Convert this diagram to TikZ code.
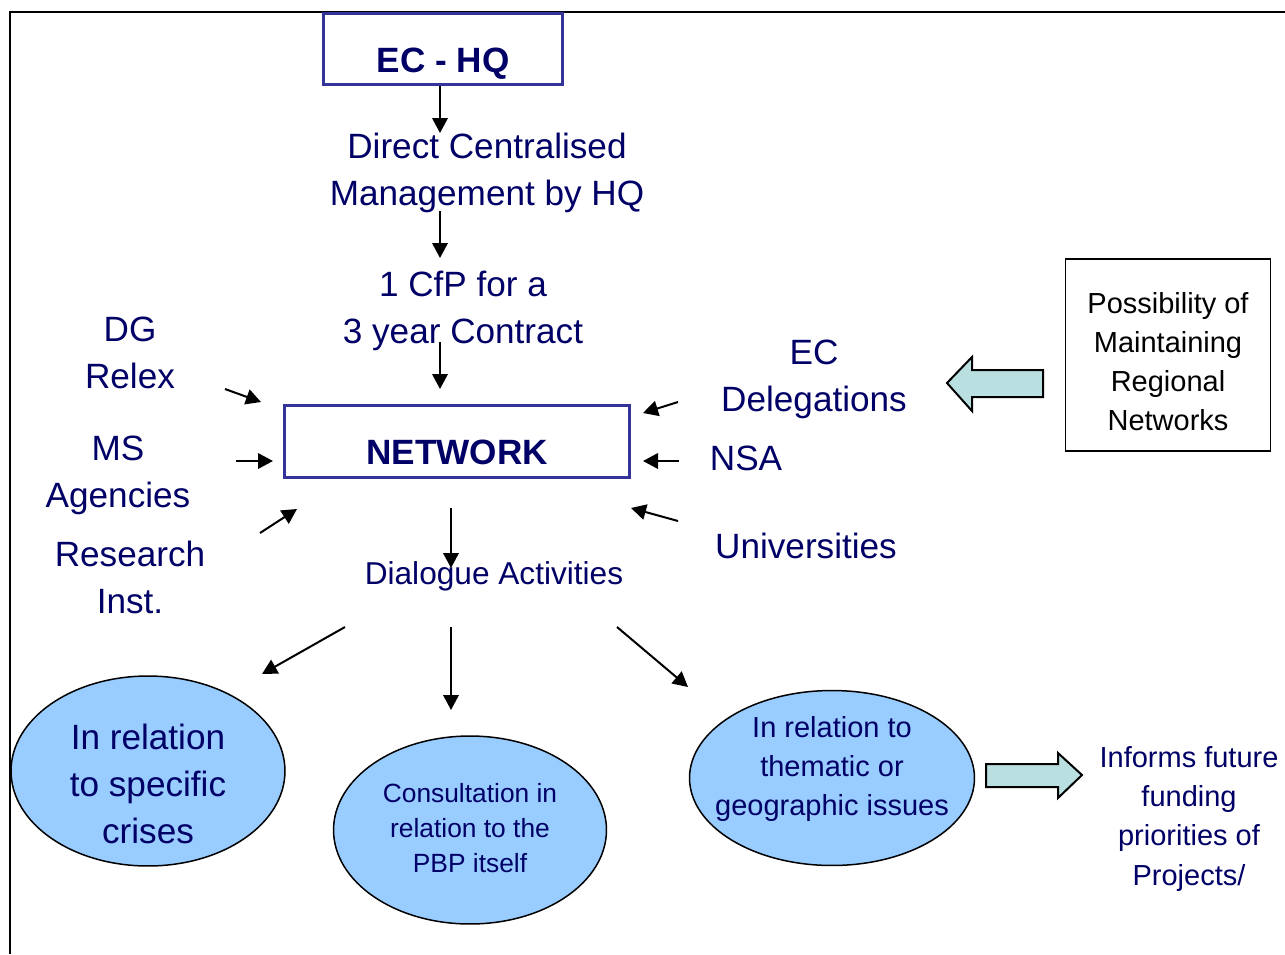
\documentclass[tikz,border=0pt]{standalone}
\usepackage{fontspec}
\setmainfont{Liberation Sans}
\usetikzlibrary{positioning,arrows.meta,shapes.geometric}

\definecolor{navy}{HTML}{000066}
\definecolor{boxblue}{HTML}{333399}
\definecolor{bubblefill}{HTML}{99CCFF}
\definecolor{pale}{HTML}{B9DFE1}

\tikzset{
  arr/.style={line width=0.04cm, -{Triangle[length=0.3cm,width=0.31cm]}},
  mainbox/.style={draw=boxblue, line width=0.06cm, minimum height=1.44cm, inner sep=0pt,
    text height=0.94cm, text depth=0pt, text=navy, font=\fontsize{20}{24}\selectfont\bfseries},
  lbl/.style={align=center, text=navy, inner sep=0pt, font=\fontsize{20}{26.7}\selectfont},
  small/.style={align=center, inner sep=0pt, font=\fontsize{16.5}{22.2}\selectfont},
  bubble/.style={ellipse, draw, line width=0.03cm, fill=bubblefill, inner sep=0pt},
  fat/.style={draw, line width=0.04cm, fill=pale, line join=miter},
}

\begin{document}
\begin{tikzpicture}[x=0.02cm, y=-0.02cm]
    \useasboundingbox (0,0) rectangle (1285,954);
    \draw[line width=0.025cm] (10,954) -- (10,12) -- (1285,12);

    % top of the chain
    \node[mainbox, minimum width=4.8cm] (hq) at (443,49) {EC - HQ};
    \node[lbl] (dcm) at (487,173) {Direct Centralised\\Management by HQ};
    \node[lbl] (cfp) at (463,311) {1 CfP for a\\3 year Contract};
    \node[mainbox, minimum width=6.9cm] (net) at (457,441) {NETWORK};
    \draw[arr] (hq.south -| 440,0) -- (440,133);
    \draw[arr] (440,211) -- (440,258);
    \draw[arr] (440,342) -- (440,389);

    % who feeds the network
    \node[lbl] (dg) at (130,353) {DG\\Relex};
    \node[lbl] (ms) at (118,475) {MS\\Agencies};
    \node[lbl] (ri) at (130,577) {Research\\Inst.};
    \node[lbl] (ecdel) at (814,379) {EC\\Delegations};
    \node[lbl] (nsa) at (746,458) {NSA};
    \node[lbl] (univ) at (806,546) {Universities};

    \coordinate (dgfrom) at (225,389);   \coordinate (dgto) at (261,402);
    \coordinate (msfrom) at (236,461);   \coordinate (msto) at (273,461);
    \coordinate (rifrom) at (260,533);   \coordinate (rito) at (297,509);
    \coordinate (ecfrom) at (678,402);   \coordinate (ecto) at (643,413);
    \coordinate (nsafrom) at (679,461);  \coordinate (nsato) at (643,461);
    \coordinate (unfrom) at (678,521);   \coordinate (unto) at (631,508);
    \foreach \a in {dg,ms,ri,ec,nsa,un}
        \draw[arr] (\a from) -- (\a to);

    % dialogue and its three strands
    \node[text=navy, inner sep=0pt, font=\fontsize{18}{22}\selectfont] (dia) at (494,576) {Dialogue Activities};
    \draw[arr] (451,508) -- (451,568);

    \node[bubble, minimum width=5.48cm, minimum height=3.8cm,
          label={[lbl, yshift=-0.26cm]center:In relation\\to specific\\crises}] (crises) at (148,771) {};
    \node[bubble, minimum width=5.46cm, minimum height=3.76cm,
          label={[small, text=navy, yshift=0.03cm, font=\fontsize{15}{19.9}\selectfont]center:Consultation in\\relation to the\\PBP itself}] (pbp) at (470,830) {};
    \node[bubble, minimum width=5.7cm, minimum height=3.5cm,
          label={[small, text=navy, yshift=0.18cm]center:In relation to\\thematic or\\geographic issues}] (theme) at (832,778) {};

    \coordinate (c1from) at (345,627);  \coordinate (c1to) at (262,674);
    \coordinate (c2from) at (451,627);  \coordinate (c2to) at (451,710);
    \coordinate (c3from) at (617,627);  \coordinate (c3to) at (688,687);
    \foreach \i in {1,2,3}
        \draw[arr] (c\i from) -- (c\i to);

    % right hand side
    \node[draw, line width=0.03cm, minimum width=4.1cm, minimum height=3.84cm,
          label={[small, yshift=-0.13cm]center:Possibility of\\Maintaining\\Regional\\Networks}] (poss) at (1168,355) {};
    \draw[fat] (947,383) -- (972,357) -- (972,370) -- (1043,370) -- (1043,397) -- (972,397) -- (972,411) -- cycle;

    \node[small, text=navy] (informs) at (1189,819) {Informs future\\funding\\priorities of\\Projects/};
    \draw[fat] (986,764) -- (1058,764) -- (1058,753) -- (1082,775) -- (1058,798) -- (1058,787) -- (986,787) -- cycle;
\end{tikzpicture}
\end{document}
